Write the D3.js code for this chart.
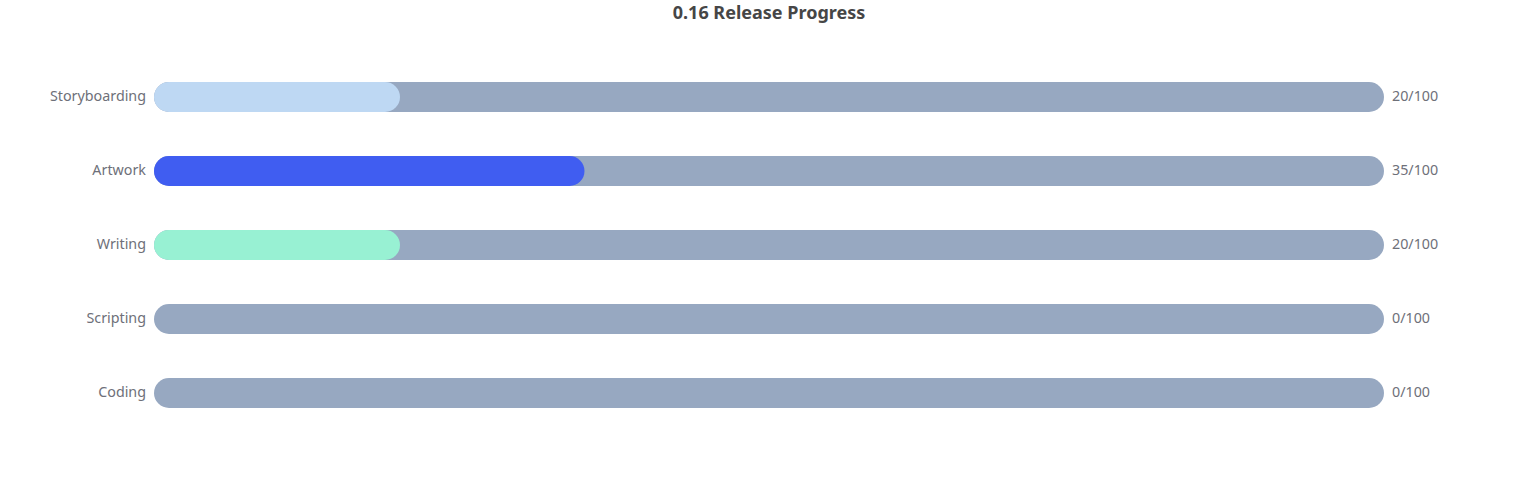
<!DOCTYPE html>
<html>
<head>
<meta charset="utf-8">
<script src="https://cdn.jsdelivr.net/npm/d3@7"></script>
<style>
  body { margin: 0; background: #fff; }
  svg { display: block; font-family: "Noto Sans", "Open Sans", sans-serif; }
</style>
</head>
<body>
<svg id="chart"></svg>
<script>
// Chart data
const tasks = ["Storyboarding", "Artwork", "Writing", "Scripting", "Coding"];
const done = [20, 35, 20, 0, 0];
const total = [100, 100, 100, 100, 100];
const fillColors = ["#bed8f3", "#405df1", "#98f1d3", "#405df1", "#405df1"];

const width = 1538;
const height = 500;
const margin = { top: 60, right: 154, bottom: 70, left: 154 };

const svg = d3.select("#chart").attr("width", width).attr("height", height);

// Scales
const x = d3.scaleLinear().domain([0, 100]).range([margin.left, width - margin.right]);
const y = d3.scaleBand().domain(tasks).range([margin.top, height - margin.bottom]);

const barH = 30;
const r = barH / 2;

// Title
svg.append("text")
	.attr("x", width / 2)
	.attr("y", 19)
	.attr("text-anchor", "middle")
	.attr("font-size", "18px")
	.attr("font-weight", "bold")
	.attr("fill", "#464646")
	.text("0.16 Release Progress");

const rows = svg.append("g")
	.selectAll("g")
	.data(tasks)
	.enter()
	.append("g")
	.attr("transform", (d) => `translate(0, ${y(d) + y.bandwidth() / 2})`);

// Background track
rows.append("rect")
	.attr("x", x(0))
	.attr("y", -barH / 2)
	.attr("width", (d, i) => x(total[i]) - x(0))
	.attr("height", barH)
	.attr("rx", r)
	.attr("fill", "#97a8c1");

// Progress
rows.filter((d, i) => done[i] > 0)
	.append("rect")
	.attr("x", x(0))
	.attr("y", -barH / 2)
	.attr("width", (d) => x(done[tasks.indexOf(d)]) - x(0))
	.attr("height", barH)
	.attr("rx", r)
	.attr("fill", (d) => fillColors[tasks.indexOf(d)]);

// Category labels
rows.append("text")
	.attr("x", x(0) - 8)
	.attr("dy", "0.28em")
	.attr("text-anchor", "end")
	.attr("font-size", "14.3px")
	.attr("fill", "#6e7079")
	.text((d) => d);

// Value labels
rows.append("text")
	.attr("x", (d, i) => x(total[i]) + 8)
	.attr("dy", "0.28em")
	.attr("font-size", "14.3px")
	.attr("fill", "#6e7079")
	.text((d, i) => `${done[i]}/${total[i]}`);
</script>
</body>
</html>
